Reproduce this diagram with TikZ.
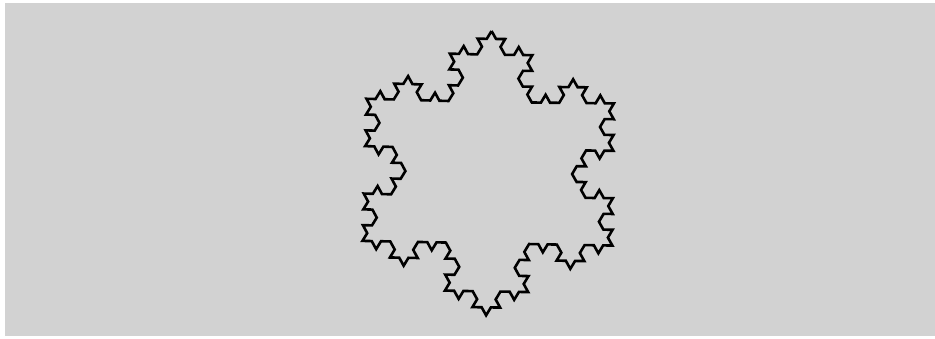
\documentclass[tikz,border=0pt]{standalone}
\usepackage{tikz}
\usetikzlibrary{decorations.fractals}
\usepackage{xcolor}
\definecolor{papier}{RGB}{210,210,210}

\begin{document}
\begin{tikzpicture}[x=1bp, y=1bp, flocon/.style={black, line width=2.6bp, line join=miter, decoration=Koch snowflake}]
	\useasboundingbox (0,0) rectangle (935,338);
	\fill[white] (0,0) rectangle (935,338);
	\fill[papier] (5,2) rectangle (935,335);
	\begin{scope}[shift={(488.8,165.5)}, xscale=1.02, rotate=-1.1]
		\coordinate (haut) at (90:141.5);
		\coordinate (droite) at (-30:141.5);
		\coordinate (gauche) at (210:141.5);
		\draw[flocon] decorate{decorate{decorate{(haut) -- (droite) -- (gauche) -- cycle}}};
	\end{scope}
\end{tikzpicture}
\end{document}
